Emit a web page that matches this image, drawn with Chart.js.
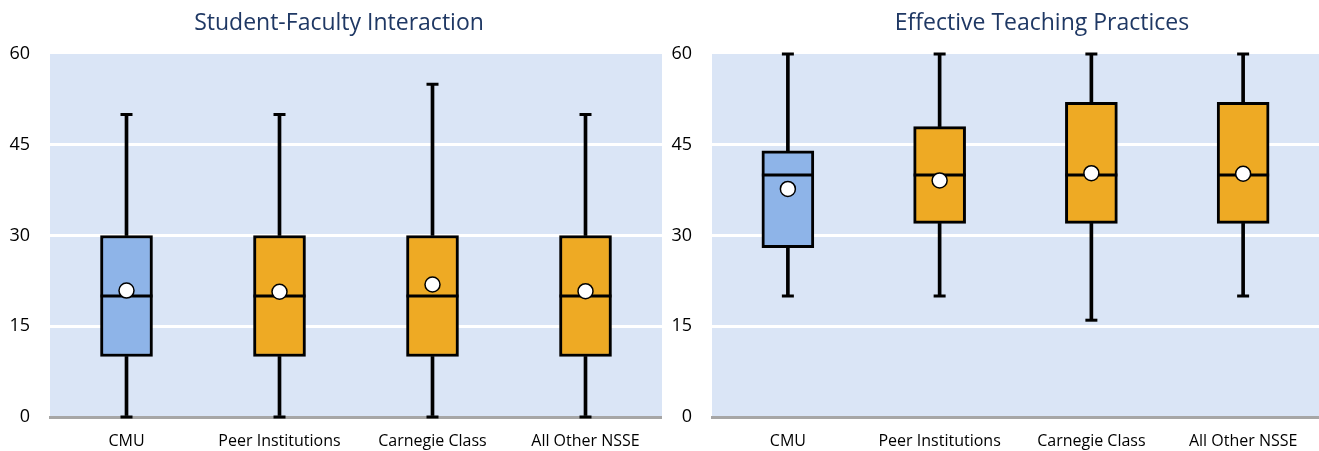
<!DOCTYPE html>
<html>
<head>
<meta charset="utf-8">
<script src="https://cdn.jsdelivr.net/npm/chart.js@4/dist/chart.umd.min.js"></script>
<style>
  html, body { margin: 0; padding: 0; background: #ffffff; }
  #wrap { position: relative; width: 1319px; height: 451px; overflow: hidden; }
  .panel { position: absolute; top: 0; height: 451px; }
  .title {
    position: absolute; top: 7px; transform: translateX(-50%);
    font-family: "Open Sans", sans-serif; font-size: 23px; color: #1F3864;
    white-space: nowrap; line-height: 28px;
  }
</style>
</head>
<body>
<div id="wrap">
  <div class="panel" style="left:0;width:662px"><canvas id="left"></canvas></div>
  <div class="panel" style="left:662px;width:657px"><canvas id="right"></canvas></div>
  <div class="title" style="left:339px">Student-Faculty Interaction</div>
  <div class="title" style="left:1042px">Effective Teaching Practices</div>
</div>
<script>
// Groups shown along the x axis
const categories = ['CMU', 'Peer Institutions', 'Carnegie Class', 'All Other NSSE'];

// Student-Faculty Interaction: five-number summaries and means
const sfMin    = [0, 0, 0, 0];
const sfQ1     = [10, 10, 10, 10];
const sfMedian = [20, 20, 20, 20];
const sfQ3     = [30, 30, 30, 30];
const sfMax    = [50, 50, 55, 50];
const sfMean   = [20.9, 20.7, 21.9, 20.8];

// Effective Teaching Practices: five-number summaries and means
const etMin    = [20, 20, 16, 20];
const etQ1     = [28, 32, 32, 32];
const etMedian = [40, 40, 40, 40];
const etQ3     = [44, 48, 52, 52];
const etMax    = [60, 60, 60, 60];
const etMean   = [37.7, 39.1, 40.3, 40.2];

// Value axis
const yTicks = [0, 15, 30, 45, 60];

const FONT = '"Open Sans", sans-serif';
const BOX_COLORS = ['#8EB4E8', '#EEAA24', '#EEAA24', '#EEAA24'];
const PLOT_BG = '#DAE5F6';

const plotBackground = {
  id: 'plotBackground',
  beforeDraw(chart) {
    const { ctx, chartArea: a } = chart;
    ctx.save();
    ctx.fillStyle = PLOT_BG;
    ctx.fillRect(a.left, a.top, a.right - a.left, a.bottom - a.top);
    ctx.restore();
  }
};

function boxDatasets(mn, q1, med, q3, mx, mean) {
  const whisker = { type: 'bar', backgroundColor: '#000000', borderWidth: 0,
                    barThickness: 3, grouped: false, order: 5 };
  const cap = { type: 'line', showLine: false, pointStyle: 'line', pointRadius: 6,
                pointBorderWidth: 3, borderColor: '#000000', pointBorderColor: '#000000',
                clip: false, order: 3 };
  return [
    Object.assign({ data: mn.map((v, i) => [v, q1[i]]) }, whisker),
    Object.assign({ data: q3.map((v, i) => [v, mx[i]]) }, whisker),
    { type: 'bar', data: q1.map((v, i) => [v, q3[i]]), backgroundColor: BOX_COLORS,
      borderColor: '#000000', borderWidth: 3, borderSkipped: false,
      barThickness: 52, grouped: false, order: 4 },
    Object.assign({ data: mn }, cap),
    Object.assign({ data: mx }, cap),
    { type: 'line', data: med, showLine: false, pointStyle: 'line', pointRadius: 26,
      pointBorderWidth: 3, borderColor: '#000000', pointBorderColor: '#000000',
      clip: false, order: 1 },
    { type: 'line', data: mean, showLine: false, pointStyle: 'circle', pointRadius: 7.5,
      pointBackgroundColor: '#ffffff', pointBorderColor: '#000000', pointBorderWidth: 1.5,
      clip: false, order: 0 }
  ];
}

function makeChart(id, width, datasets) {
  const canvas = document.getElementById(id);
  canvas.width = width; canvas.height = 451;
  canvas.style.width = width + 'px'; canvas.style.height = '451px';
  return new Chart(canvas, {
    type: 'bar',
    data: { labels: categories, datasets },
    plugins: [plotBackground],
    options: {
      responsive: false,
      animation: false,
      events: [],
      layout: { autoPadding: false, padding: { top: 54, right: 0, left: 0, bottom: 0 } },
      plugins: { legend: { display: false }, tooltip: { enabled: false }, title: { display: false } },
      scales: {
        x: {
          z: 1,
          grid: { display: false, drawTicks: false },
          border: { display: true, color: '#A6A6A6', width: 3 },
          ticks: { color: '#000000', padding: 15, maxRotation: 0, font: { family: FONT, size: 16 } },
          afterFit(scale) { scale.height = 34; scale.paddingLeft = 0; scale.paddingRight = 0; }
        },
        y: {
          min: yTicks[0], max: yTicks[yTicks.length - 1],
          afterBuildTicks(scale) { scale.ticks = yTicks.map(v => ({ value: v })); },
          grid: {
            drawTicks: false, lineWidth: 3,
            color: c => (c.tick && (c.tick.value === 0 || c.tick.value === 60)) ? 'rgba(0,0,0,0)' : '#ffffff'
          },
          border: { display: false },
          ticks: { color: '#000000', padding: 20, font: { family: FONT, size: 18 } },
          afterFit(scale) { scale.width = 50; scale.paddingTop = 0; scale.paddingBottom = 0; }
        }
      }
    }
  });
}

makeChart('left', 662, boxDatasets(sfMin, sfQ1, sfMedian, sfQ3, sfMax, sfMean));
makeChart('right', 657, boxDatasets(etMin, etQ1, etMedian, etQ3, etMax, etMean));
</script>
</body>
</html>
